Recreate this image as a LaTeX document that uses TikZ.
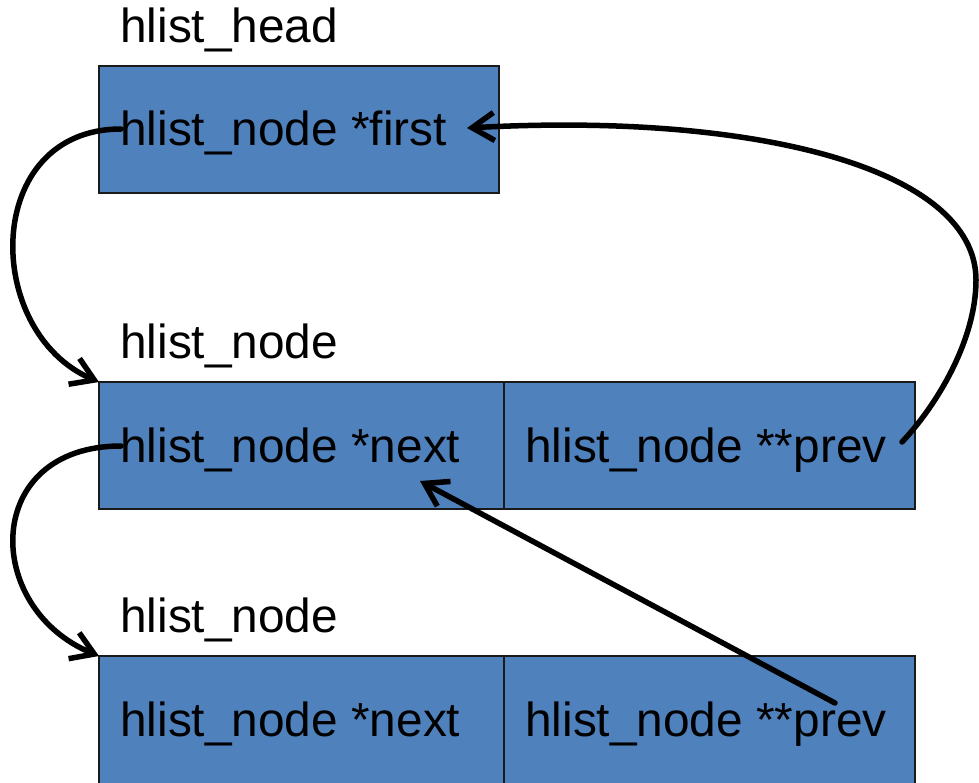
\documentclass[tikz,border=0pt]{standalone}
\usepackage{fontspec}
\setmainfont{Liberation Sans}
\usetikzlibrary{arrows.meta}
\definecolor{cellblue}{HTML}{4F81BD}
\definecolor{celledge}{HTML}{1A1A1A}
\tikzset{
  cell/.style={draw=celledge, line width=1.5pt, fill=cellblue, anchor=north west,
               minimum height=127pt, inner sep=0pt, outer sep=0pt},
  field/.style={anchor=base west, inner sep=0pt, font=\fontsize{47.8}{57}\selectfont},
  ptr/.style={line width=5.5pt, line cap=round,
              -{Straight Barb[length=22pt,width=28pt]}}
}
\begin{document}
\begin{tikzpicture}[x=1pt,y=-1pt]
  \useasboundingbox (0,0) rectangle (979,782);
  \clip (0,0) rectangle (979,782);

  % list head
  \node[field] (headtitle) at (120,42) {hlist\_head};
  \node[cell, minimum width=400pt] (head) at (99,66) {};
  \node[field] (first) at (120,145) {hlist\_node *first};

  % first list element
  \node[field] (n1title) at (120,358) {hlist\_node};
  \node[cell, minimum width=405pt] (n1next) at (99,382) {};
  \node[cell, minimum width=411pt] (n1prev) at (504,382) {};
  \node[field] (n1nexttxt) at (120,462) {hlist\_node *next};
  \node[field] (n1prevtxt) at (525,462) {hlist\_node **prev};

  % second list element
  \node[field] (n2title) at (120,632) {hlist\_node};
  \node[cell, minimum width=405pt, minimum height=150pt] (n2next) at (99,656) {};
  \node[cell, minimum width=411pt, minimum height=150pt] (n2prev) at (504,656) {};
  \node[field] (n2nexttxt) at (120,736) {hlist\_node *next};
  \node[field] (n2prevtxt) at (525,736) {hlist\_node **prev};

  % pointer ends
  \coordinate (firstsrc) at (121,129);
  \coordinate (n1nextsrc) at (121,446);
  \coordinate (n1prevsrc) at (902,442);
  \coordinate (n2prevsrc) at (835,703);
  \coordinate (firsttip) at (467,128);
  \coordinate (n1nexttip) at (420,481);

  % first -> element 1, element 1 next -> element 2
  \draw[ptr] (firstsrc) .. controls (-18,129) and (-18,332) .. (n1next.north west);
  \draw[ptr] (n1nextsrc) .. controls (-18,446) and (-18,608) .. (n2next.north west);

  % pprev pointers
  \draw[ptr] (n1prevsrc) .. controls (937,405) and (976,340) .. (976,280)
             .. controls (976,170) and (760,112) .. (firsttip);
  \draw[ptr] (n2prevsrc) -- (n1nexttip);
\end{tikzpicture}
\end{document}
